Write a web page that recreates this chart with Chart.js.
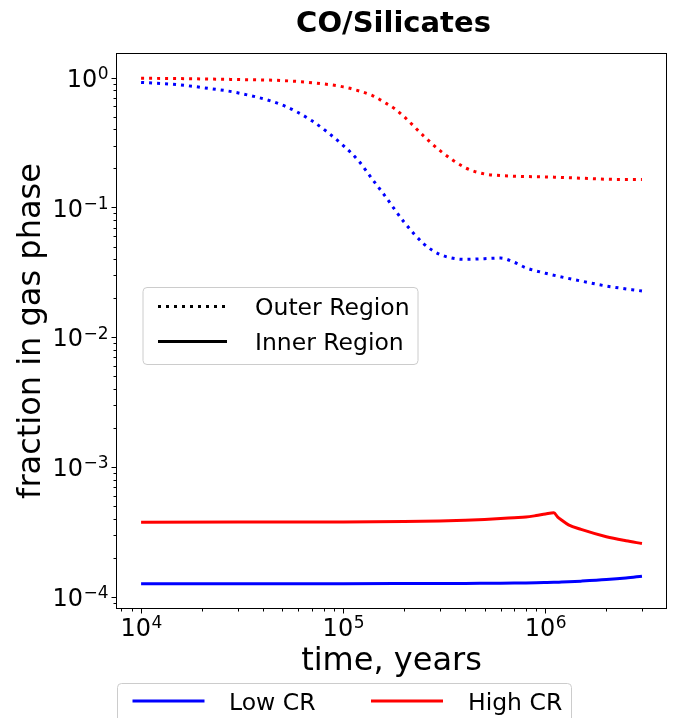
<!DOCTYPE html>
<html>
<head>
<meta charset="utf-8">
<script src="https://cdn.jsdelivr.net/npm/chart.js@4/dist/chart.umd.min.js"></script>
<style>
    html, body { margin: 0; padding: 0; background: #fff; }
    #wrap { width: 678px; height: 718px; position: relative; }
</style>
</head>
<body>
<div id="wrap"><canvas id="chart"></canvas></div>
<script>
// CO/Silicates — fraction in gas phase vs time

const timeOuter = [1e4, 1.5e4, 2e4, 3e4, 5e4, 7e4, 1e5, 1.2e5, 1.4e5, 1.6e5, 1.8e5, 2e5,
    2.5e5, 3e5, 4e5, 5e5, 6e5, 7e5, 8e5, 1e6, 1.5e6, 2e6, 3e6];
const highCrOuter = [0.99, 0.985, 0.978, 0.968, 0.95, 0.915, 0.85, 0.79, 0.725, 0.645, 0.575, 0.50,
    0.355, 0.275, 0.203, 0.181, 0.176, 0.174, 0.173, 0.172, 0.168, 0.165, 0.164];
const lowCrOuter = [0.92, 0.885, 0.84, 0.765, 0.615, 0.465, 0.30, 0.225, 0.163, 0.124, 0.096, 0.077,
    0.0525, 0.0435, 0.0398, 0.0403, 0.0407, 0.0378, 0.0343, 0.0311, 0.0271, 0.0248, 0.0227];

const timeInner = [1e4, 3e4, 1e5, 2e5, 3e5, 4e5, 5e5, 6e5, 7e5, 8e5, 9e5, 1e6, 1.1e6, 1.15e6,
    1.2e6, 1.3e6, 1.5e6, 2e6, 2.5e6, 3e6];
const highCrInner = [3.75e-4, 3.76e-4, 3.77e-4, 3.8e-4, 3.84e-4, 3.89e-4, 3.94e-4, 4.0e-4, 4.06e-4,
    4.11e-4, 4.22e-4, 4.34e-4, 4.43e-4, 4.1e-4, 3.9e-4, 3.58e-4, 3.3e-4, 2.9e-4, 2.7e-4, 2.57e-4];
const lowCrInner = [1.26e-4, 1.26e-4, 1.26e-4, 1.262e-4, 1.264e-4, 1.266e-4, 1.268e-4, 1.27e-4, 1.273e-4,
    1.276e-4, 1.28e-4, 1.285e-4, 1.29e-4, 1.293e-4, 1.296e-4, 1.303e-4, 1.318e-4, 1.355e-4, 1.395e-4, 1.44e-4];

const xTickExps = [4, 5, 6];
const yTickExps = [-4, -3, -2, -1, 0];
const crLabels = ["Low CR", "High CR"];
const regionLabels = ["Outer Region", "Inner Region"];

const BLUE = "#0000ff";
const RED = "#ff0000";
const DOT = [3, 5];
const FONT = "'DejaVu Sans', sans-serif";

const pts = (xs, ys) => xs.map((x, i) => ({ x, y: ys[i] }));

const lineDs = (label, data, color, dotted) => ({
    label,
    data,
    borderColor: color,
    borderWidth: 3,
    borderDash: dotted ? DOT : [],
    borderCapStyle: "butt",
    pointRadius: 0,
    fill: false,
    cubicInterpolationMode: "monotone",
});

function supLabel(ctx, exp, x, baseline, align) {
    const base = "10";
    const sup = exp < 0 ? "\u2212" + Math.abs(exp) : String(exp);
    ctx.font = `24px ${FONT}`;
    const w1 = ctx.measureText(base).width;
    ctx.font = `17px ${FONT}`;
    const w2 = ctx.measureText(sup).width;
    const left = align === "right" ? x - w1 - w2 : x - (w1 + w2) / 2;
    ctx.textAlign = "left";
    ctx.textBaseline = "alphabetic";
    ctx.font = `24px ${FONT}`;
    ctx.fillText(base, left, baseline);
    ctx.font = `17px ${FONT}`;
    ctx.fillText(sup, left + w1 + 0.5, baseline - 7.8);
}

function legendBox(ctx, x, y, w, h) {
    const r = 4;
    ctx.save();
    ctx.beginPath();
    ctx.moveTo(x + r, y);
    ctx.arcTo(x + w, y, x + w, y + h, r);
    ctx.arcTo(x + w, y + h, x, y + h, r);
    ctx.arcTo(x, y + h, x, y, r);
    ctx.arcTo(x, y, x + w, y, r);
    ctx.closePath();
    ctx.fillStyle = "rgba(255,255,255,0.8)";
    ctx.fill();
    ctx.strokeStyle = "#cccccc";
    ctx.lineWidth = 1;
    ctx.stroke();
    ctx.restore();
}

function sample(ctx, x1, x2, y, color, dotted, label, tx) {
    ctx.save();
    ctx.strokeStyle = color;
    ctx.lineWidth = 3;
    ctx.lineCap = "butt";
    ctx.setLineDash(dotted ? DOT : []);
    ctx.beginPath();
    ctx.moveTo(x1, y);
    ctx.lineTo(x2, y);
    ctx.stroke();
    ctx.restore();
    ctx.fillStyle = "#000";
    ctx.font = `23.5px ${FONT}`;
    ctx.textAlign = "left";
    ctx.textBaseline = "alphabetic";
    ctx.fillText(label, tx, y + 8.5);
}

const mplAxes = {
    id: "mplAxes",
    afterDraw(chart) {
        const { ctx, chartArea: a, scales: { x, y } } = chart;
        ctx.save();

        // frame
        ctx.strokeStyle = "#000";
        ctx.lineWidth = 1;
        ctx.strokeRect(a.left + 0.5, a.top + 0.5, a.right - a.left - 1, a.bottom - a.top - 1);

        // x ticks
        ctx.beginPath();
        for (let e = 3; e <= 6; e++) {
            for (let m = 1; m <= 9; m++) {
                const v = m * Math.pow(10, e);
                if (v < x.min || v > x.max) continue;
                const px = Math.round(x.getPixelForValue(v)) + 0.5;
                const len = m === 1 ? 4.5 : 2.5;
                ctx.moveTo(px, a.bottom);
                ctx.lineTo(px, a.bottom + len);
            }
        }
        // y ticks
        for (let e = -5; e <= 0; e++) {
            for (let m = 1; m <= 9; m++) {
                const v = m * Math.pow(10, e);
                if (v < y.min || v > y.max) continue;
                const py = Math.round(y.getPixelForValue(v)) + 0.5;
                const len = m === 1 ? 4.5 : 2.5;
                ctx.moveTo(a.left, py);
                ctx.lineTo(a.left - len, py);
            }
        }
        ctx.stroke();

        ctx.fillStyle = "#000";
        xTickExps.forEach(e => supLabel(ctx, e, x.getPixelForValue(Math.pow(10, e)), a.bottom + 27, "center"));
        yTickExps.forEach(e => supLabel(ctx, e, a.left - 8, y.getPixelForValue(Math.pow(10, e)) + 9.2, "right"));

        // axis titles
        ctx.textAlign = "center";
        ctx.textBaseline = "alphabetic";
        ctx.font = `32px ${FONT}`;
        ctx.fillText("time, years", (a.left + a.right) / 2, 670);
        ctx.save();
        ctx.translate(40, (a.top + a.bottom) / 2);
        ctx.rotate(-Math.PI / 2);
        ctx.fillText("fraction in gas phase", 0, 0);
        ctx.restore();

        // title
        ctx.font = `bold 29px ${FONT}`;
        ctx.fillText("CO/Silicates", (a.left + a.right) / 2 + 2, 32);

        // line-style legend
        legendBox(ctx, 143, 287.5, 275, 77);
        sample(ctx, 158, 227, 306.5, "#000", true, regionLabels[0], 255);
        sample(ctx, 158, 227, 341.5, "#000", false, regionLabels[1], 255);

        // colour legend below the axes
        legendBox(ctx, 117.5, 683.5, 454, 44);
        sample(ctx, 132.5, 204.5, 701, BLUE, false, crLabels[0], 229);
        sample(ctx, 371, 443, 701, RED, false, crLabels[1], 468);

        ctx.restore();
    }
};

new Chart(document.getElementById("chart"), {
    type: "line",
    data: {
        datasets: [
            lineDs("Low CR, outer", pts(timeOuter, lowCrOuter), BLUE, true),
            lineDs("High CR, outer", pts(timeOuter, highCrOuter), RED, true),
            lineDs("Low CR, inner", pts(timeInner, lowCrInner), BLUE, false),
            lineDs("High CR, inner", pts(timeInner, highCrInner), RED, false),
        ]
    },
    options: {
        responsive: true,
        maintainAspectRatio: false,
        devicePixelRatio: 1,
        animation: false,
        layout: { padding: { left: 116, right: 11, top: 53, bottom: 109 } },
        plugins: { legend: { display: false }, tooltip: { enabled: false }, title: { display: false } },
        scales: {
            x: { type: "logarithmic", display: false, bounds: "data", min: 7515, max: 3.99e6 },
            y: { type: "logarithmic", display: false, bounds: "data", min: 8.04e-5, max: 1.55 },
        },
    },
    plugins: [mplAxes],
});
</script>
</body>
</html>
